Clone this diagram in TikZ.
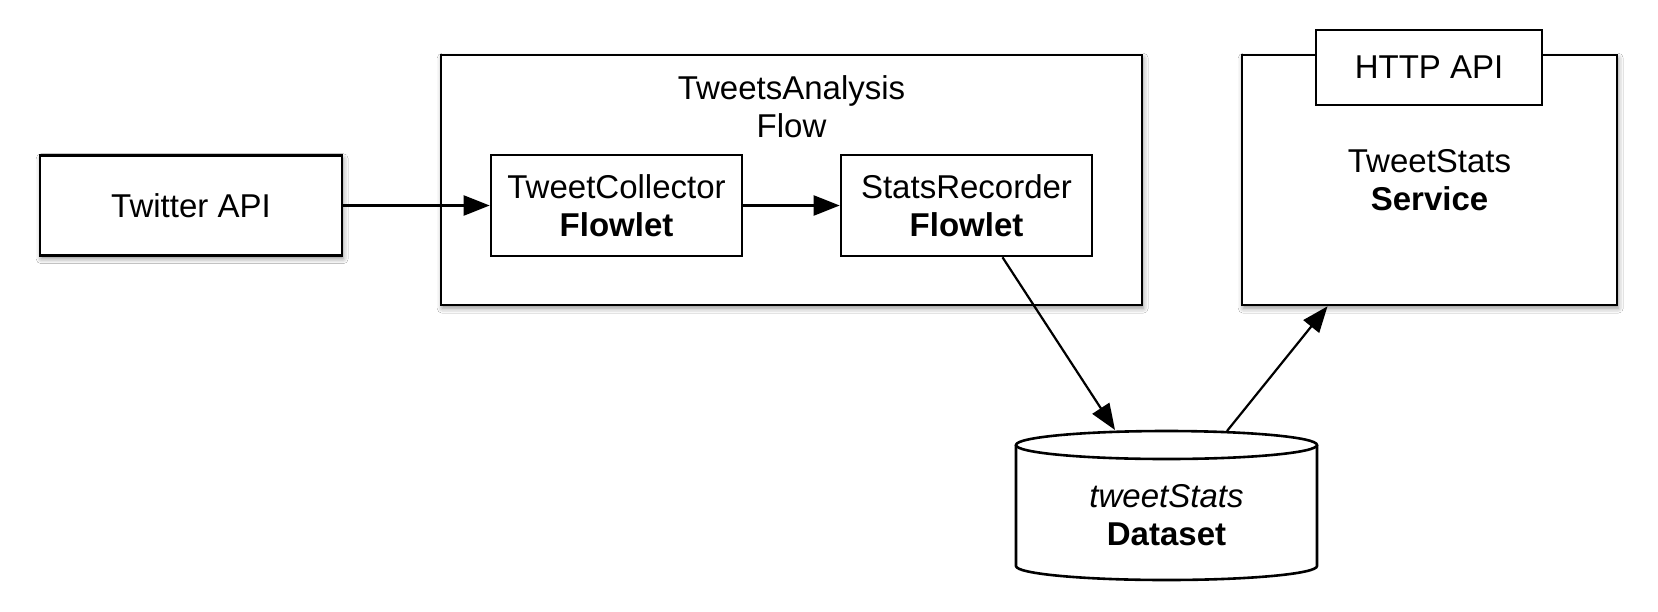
\documentclass[tikz,border=0pt]{standalone}
\usepackage{fontspec}
\setmainfont{Liberation Sans}
\usetikzlibrary{arrows.meta,shadows.blur}
\tikzset{
  box/.style={draw=black, line width=1.3pt, fill=white, inner sep=0pt, align=center,
    blur shadow={shadow xshift=0.6pt, shadow yshift=-1.6pt, shadow blur radius=2.5pt, shadow opacity=45}},
  plainbox/.style={draw=black, line width=1.3pt, fill=white, inner sep=0pt, align=center},
  txt/.style={align=center, inner sep=0pt},
  conn/.style={line width=1.1pt, -{Triangle[length=13pt,width=10pt]}},
}
\begin{document}
\begin{tikzpicture}[x=0.5pt,y=-0.5pt,
  every node/.style={font=\fontsize{16.5}{18.8}\selectfont}]
\useasboundingbox[fill=white] (0,0) rectangle (1658,611);
% Twitter API
\node[box, minimum width=151pt, minimum height=50pt] (tw) at (191,205.5) {Twitter API};
% Flow container
\node[box, minimum width=350.5pt, minimum height=125pt] (flow) at (791.5,180) {};
\node[txt] (flowtitle) at (791.5,107) {TweetsAnalysis\\Flow};
\node[plainbox, minimum width=125.5pt, minimum height=50.5pt] (tc) at (616.5,205.5) {TweetCollector\\\textbf{Flowlet}};
\node[plainbox, minimum width=125.5pt, minimum height=50.5pt] (sr) at (966.5,205.5) {StatsRecorder\\\textbf{Flowlet}};
% Service
\node[box, minimum width=187.5pt, minimum height=125pt] (svc) at (1429.5,180) {TweetStats\\\textbf{Service}};
\node[plainbox, minimum width=113pt, minimum height=37.5pt] (http) at (1429,67.5) {HTTP API};
% Dataset cylinder
\fill[white] (1016,445) -- (1016,566) arc[start angle=180, end angle=360, x radius=75.25pt, y radius=7pt] -- (1317,445) -- cycle;
\draw[line width=1.3pt] (1016,445) -- (1016,566) arc[start angle=180, end angle=360, x radius=75.25pt, y radius=7pt] -- (1317,445);
\draw[line width=1.3pt, fill=white] (1166.5,445) ellipse [x radius=75.25pt, y radius=7pt];
\node[txt] (ds) at (1166.5,515) {\textit{tweetStats}\\\textbf{Dataset}};
\coordinate (dsin) at (1115,430);
\coordinate (dsout) at (1227,431);
% connectors
\draw[conn] (tw.east) -- (tc.west);
\draw[conn] (tc.east) -- (sr.west);
\draw[conn] ([xshift=18pt]sr.south) -- (dsin);
\draw[conn] (dsout) -- ([xshift=-51pt]svc.south);
\end{tikzpicture}
\end{document}
